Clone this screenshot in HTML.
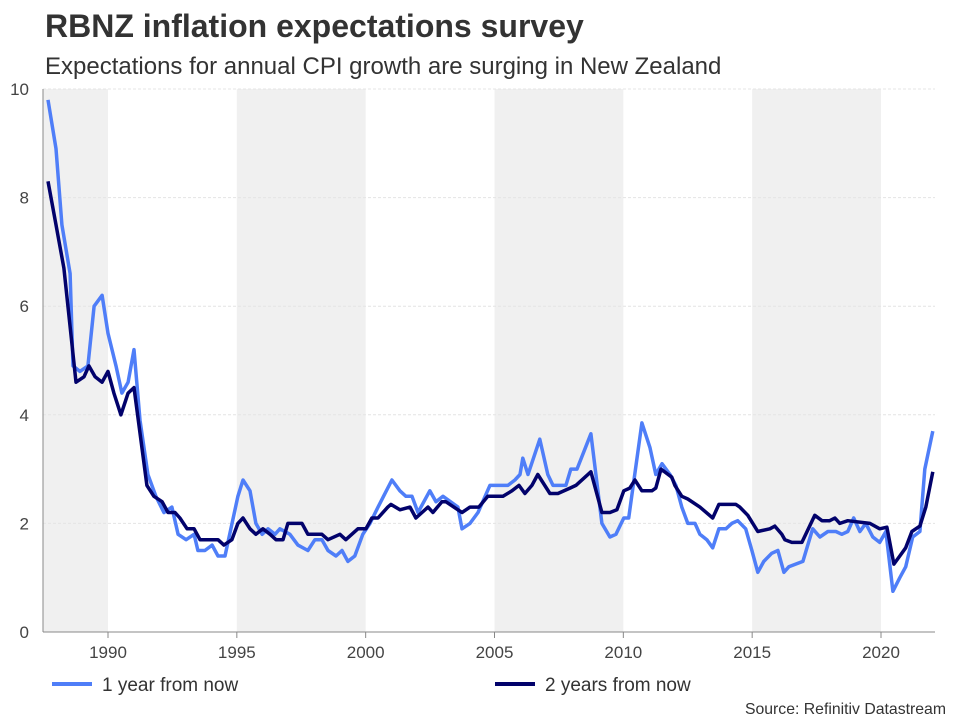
<!DOCTYPE html>
<html><head><meta charset="utf-8"><style>
body{margin:0;background:#fff;font-family:"Liberation Sans",Arial,sans-serif;}
</style></head><body>
<svg id="chart" width="960" height="720" xmlns="http://www.w3.org/2000/svg">
<text x="45" y="37" font-size="32" font-weight="bold" fill="#333">RBNZ inflation expectations survey</text>
<text x="45" y="74" font-size="24" fill="#333">Expectations for annual CPI growth are surging in New Zealand</text>
<g id="bands"></g>
<g id="grid"></g>
<g id="axes"></g>
<g id="lines"></g>
<g>
<line x1="52" y1="684" x2="92" y2="684" stroke="#4f7ef8" stroke-width="4"/>
<text x="102" y="691" font-size="19" fill="#333">1 year from now</text>
<line x1="495" y1="684" x2="535" y2="684" stroke="#02026b" stroke-width="4"/>
<text x="545" y="691" font-size="19" fill="#333">2 years from now</text>
</g>
<text x="946" y="714" font-size="15.8" fill="#333" text-anchor="end">Source: Refinitiv Datastream</text>
</svg>
<script>
const yTicks=[0,2,4,6,8,10];
const xTicks=[1990,1995,2000,2005,2010,2015,2020];
const bandRanges=[[1987.5,1990],[1995,2000],[2005,2010],[2015,2020]];
const dates1=[1987.67,1987.98,1988.21,1988.53,1988.64,1988.91,1989.22,1989.46,1989.77,1990.0,1990.31,1990.54,1990.78,1991.01,1991.24,1991.55,1991.86,1992.17,1992.48,1992.72,1993.03,1993.34,1993.49,1993.76,1994.04,1994.27,1994.54,1995.04,1995.24,1995.51,1995.74,1995.98,1996.21,1996.48,1996.67,1997.06,1997.37,1997.76,1998.03,1998.30,1998.54,1998.85,1999.08,1999.31,1999.58,1999.89,2000.17,2000.48,2001.02,2001.33,2001.56,2001.80,2002.03,2002.49,2002.73,2003.00,2003.58,2003.74,2004.05,2004.36,2004.82,2005.21,2005.52,2005.79,2005.99,2006.10,2006.30,2006.76,2007.07,2007.27,2007.54,2007.77,2007.96,2008.20,2008.74,2009.17,2009.48,2009.71,2010.02,2010.21,2010.72,2011.03,2011.26,2011.50,2011.81,2012.04,2012.27,2012.50,2012.78,2012.97,2013.24,2013.47,2013.71,2013.98,2014.21,2014.44,2014.75,2014.99,2015.22,2015.45,2015.76,2016.00,2016.23,2016.42,2016.69,2016.97,2017.35,2017.63,2017.94,2018.25,2018.48,2018.71,2018.94,2019.18,2019.41,2019.68,2019.95,2020.19,2020.46,2020.73,2020.96,2021.23,2021.51,2021.70,2022.01];
const oneYear=[9.8,8.9,7.5,6.6,4.9,4.8,4.9,6.0,6.2,5.5,4.9,4.4,4.6,5.2,3.9,2.9,2.5,2.2,2.3,1.8,1.7,1.8,1.5,1.5,1.6,1.4,1.4,2.5,2.8,2.6,2.0,1.8,1.9,1.8,1.9,1.8,1.6,1.5,1.7,1.7,1.5,1.4,1.5,1.3,1.4,1.8,2.0,2.3,2.8,2.6,2.5,2.5,2.2,2.6,2.4,2.5,2.3,1.9,2.0,2.2,2.7,2.7,2.7,2.8,2.9,3.2,2.9,3.55,2.9,2.7,2.7,2.7,3.0,3.0,3.65,2.0,1.75,1.8,2.1,2.1,3.85,3.4,2.9,3.1,2.9,2.7,2.3,2.0,2.0,1.8,1.7,1.55,1.9,1.9,2.0,2.05,1.9,1.5,1.1,1.3,1.45,1.5,1.1,1.2,1.25,1.3,1.9,1.75,1.85,1.85,1.8,1.85,2.1,1.85,2.0,1.75,1.65,1.85,0.75,1.0,1.2,1.75,1.85,3.0,3.7];
const dates2=[1987.67,1987.98,1988.29,1988.76,1989.07,1989.26,1989.50,1989.77,1990.0,1990.23,1990.50,1990.78,1991.01,1991.51,1991.78,1992.10,1992.33,1992.60,1992.79,1993.07,1993.34,1993.57,1994.27,1994.50,1994.81,1995.04,1995.24,1995.51,1995.74,1996.01,1996.29,1996.52,1996.79,1996.98,1997.53,1997.76,1998.30,1998.54,1999.00,1999.23,1999.70,2000.01,2000.24,2000.48,2000.86,2000.98,2001.33,2001.72,2001.95,2002.42,2002.61,2002.96,2003.11,2003.74,2004.05,2004.39,2004.74,2005.21,2005.33,2005.68,2005.95,2006.18,2006.45,2006.68,2007.15,2007.46,2007.93,2008.16,2008.74,2009.17,2009.48,2009.75,2010.02,2010.25,2010.45,2010.72,2011.11,2011.26,2011.46,2011.88,2012.00,2012.27,2012.50,2012.97,2013.47,2013.71,2014.37,2014.52,2014.83,2015.22,2015.69,2015.88,2016.15,2016.27,2016.54,2016.93,2017.43,2017.71,2018.01,2018.21,2018.40,2018.71,2019.57,2019.95,2020.23,2020.50,2020.73,2020.96,2021.20,2021.51,2021.74,2022.01];
const twoYear=[8.3,7.5,6.7,4.6,4.7,4.9,4.7,4.6,4.8,4.4,4.0,4.4,4.5,2.7,2.5,2.4,2.2,2.2,2.1,1.9,1.9,1.7,1.7,1.6,1.7,2.0,2.1,1.9,1.8,1.9,1.8,1.7,1.7,2.0,2.0,1.8,1.8,1.7,1.8,1.7,1.9,1.9,2.1,2.1,2.3,2.35,2.25,2.3,2.1,2.3,2.2,2.4,2.4,2.2,2.3,2.3,2.5,2.5,2.5,2.6,2.7,2.55,2.7,2.9,2.55,2.55,2.65,2.7,2.95,2.2,2.2,2.25,2.6,2.65,2.8,2.6,2.6,2.65,3.0,2.85,2.7,2.5,2.45,2.3,2.1,2.35,2.35,2.3,2.15,1.85,1.9,1.95,1.8,1.7,1.65,1.65,2.15,2.05,2.05,2.1,2.0,2.05,2.0,1.9,1.93,1.25,1.4,1.55,1.85,1.95,2.3,2.95];

const NS='http://www.w3.org/2000/svg';
const L=43,R=935,T=89,B=632;
const x=v=>108+(v-1990)*(881-108)/30;
const y=v=>B-(v/10)*(B-T);
function mk(tag,attrs,parent){const e=document.createElementNS(NS,tag);for(const k in attrs)e.setAttribute(k,attrs[k]);parent.appendChild(e);return e;}
const bands=document.getElementById('bands'),grid=document.getElementById('grid'),axes=document.getElementById('axes'),lines=document.getElementById('lines');
bandRanges.forEach(b=>{const x0=Math.max(L,x(b[0]));const r=mk('rect',{x:x0,y:T,width:x(b[1])-x0,height:B-T,fill:'#f0f0f0'},bands);

});
yTicks.forEach(t=>{
 if(t>0){const g=mk('line',{x1:L,x2:R,y1:y(t),y2:y(t),stroke:'#e4e4e4','stroke-dasharray':'3,2','stroke-width':1},grid);
 
 }
 const tx=mk('text',{x:29,y:y(t)+6,'font-size':17,fill:'#444','text-anchor':'end'},axes);tx.textContent=t;
 
 
});
mk('line',{x1:L,x2:L,y1:T,y2:B,stroke:'#888'},axes);
mk('line',{x1:L,x2:R,y1:B,y2:B,stroke:'#888'},axes);
xTicks.forEach(t=>{
 mk('line',{x1:x(t),x2:x(t),y1:B,y2:B+6,stroke:'#888'},axes);
 const tx=mk('text',{x:x(t),y:B+26,'font-size':17,fill:'#444','text-anchor':'middle'},axes);tx.textContent=t;
 
 
});
function path(ds,vs,color,name){
 const d=ds.map((dt,i)=>(i?'L':'M')+x(dt).toFixed(1)+','+y(vs[i]).toFixed(1)).join('');
 const p=mk('path',{d:d,fill:'none',stroke:color,'stroke-width':3.5,'stroke-linejoin':'round'},lines);
 
 
}
path(dates1,oneYear,'#4f7ef8','line-1-year');
path(dates2,twoYear,'#02026b','line-2-years');
</script>
</body></html>
